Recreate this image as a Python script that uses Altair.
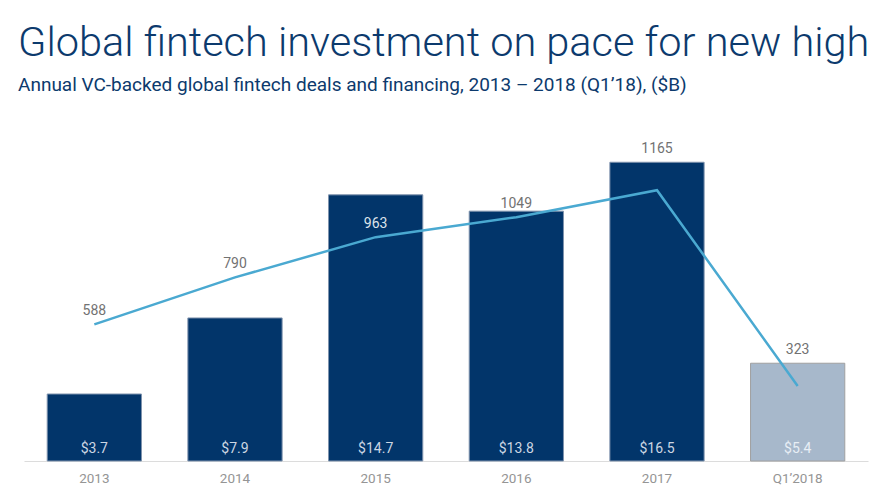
import altair as alt
import pandas as pd

years = ["2013", "2014", "2015", "2016", "2017", "Q1’2018"]
financing_b = [3.7, 7.9, 14.7, 13.8, 16.5, 5.4]
deal_counts = [588, 790, 963, 1049, 1165, 323]

df = pd.DataFrame({"year": years, "fin": financing_b, "deals": deal_counts})

BAR_MAX = 19
DEAL_MAX = 1480
DARK = "#02356a"
LIGHT = "#a7b8cb"
LINE = "#4aa9d1"
FONT = "Roboto"

x_enc = alt.X(
    "year:N",
    sort=years,
    title=None,
    scale=alt.Scale(paddingInner=0.33, paddingOuter=0.165),
    axis=alt.Axis(
        labelAngle=0, ticks=False, domainColor="#dcdcdc", domainWidth=1.2,
        labelColor="#959595", labelFontSize=13.5, labelFont=FONT, labelPadding=10,
        grid=False,
    ),
)

base = alt.Chart(df).encode(x=x_enc)

is_q1 = "datum.year === 'Q1’2018'"

bars = base.mark_bar(strokeWidth=1).encode(
    y=alt.Y("fin:Q", scale=alt.Scale(domain=[0, BAR_MAX]), axis=None),
    color=alt.condition(is_q1, alt.value(LIGHT), alt.value(DARK)),
    stroke=alt.condition(is_q1, alt.value("#a0a0a0"), alt.value("#7f93ad")),
)

bar_labels = base.transform_calculate(
    zero="0", lbl="'$' + format(datum.fin, '.1f')"
).mark_text(baseline="alphabetic", dy=-8, fontSize=14, font=FONT).encode(
    y=alt.Y("zero:Q", scale=alt.Scale(domain=[0, BAR_MAX]), axis=None),
    text="lbl:N",
    color=alt.condition(is_q1, alt.value("#e8eef5"), alt.value("#cdd7e3")),
)

line = base.mark_line(color=LINE, strokeWidth=2.5).encode(
    y=alt.Y("deals:Q", scale=alt.Scale(domain=[0, DEAL_MAX]), axis=None),
)

ratio = DEAL_MAX / BAR_MAX
deal_labels = base.transform_calculate(
    anchor=f"(datum.year === '2017' || {is_q1}) ? datum.fin * {ratio} : datum.deals"
).mark_text(baseline="alphabetic", dy=-9, fontSize=14, font=FONT).encode(
    y=alt.Y("anchor:Q", scale=alt.Scale(domain=[0, DEAL_MAX]), axis=None),
    text=alt.Text("deals:Q", format="d"),
    color=alt.condition("datum.year === '2015'", alt.value("#dde3ea"), alt.value("#727272")),
)

chart = (
    alt.layer(bars, bar_labels, line, deal_labels)
    .resolve_scale(y="independent")
    .properties(
        width=844,
        height=344,
        autosize=alt.AutoSizeParams(type="none"),
        padding={"left": 16, "top": 109, "right": 10, "bottom": 30},
        title=alt.TitleParams(
            text="Global fintech investment on pace for new high",
            subtitle="Annual VC-backed global fintech deals and financing, 2013 – 2018 (Q1’18), ($B)",
            anchor="start",
            frame="group",
            dx=-6,
            offset=22,
            font="Roboto",
            fontSize=41.5,
            fontWeight=300,
            color="#0c3a6d",
            subtitleFont="Roboto",
            subtitleFontSize=19,
            subtitleColor="#0c3a6d",
            subtitlePadding=12,
        ),
    )
    .configure_view(stroke=None)
)

chart.save("out.html", embed_options={"renderer": "svg", "actions": False})
